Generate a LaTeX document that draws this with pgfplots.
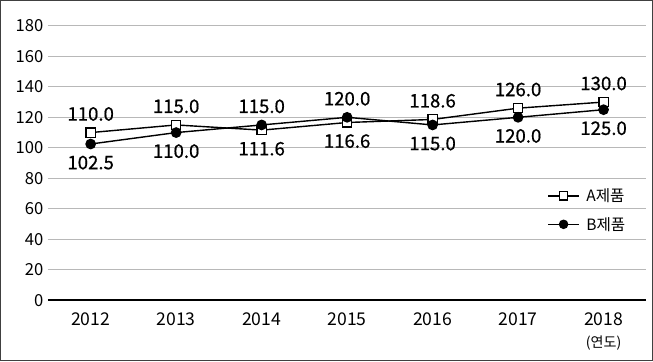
\documentclass[border=0pt]{standalone}
\usepackage{pgfplots}
\usepackage{pgfplotstable}
\pgfplotsset{compat=1.18}
\usepackage{fontspec}
\setmainfont{Noto Sans CJK KR}
\newfontfamily\lblfont[FakeBold=0.7]{Noto Sans CJK KR}
\newfontfamily\tickfont{Noto Sans CJK KR}
\pgfplotstableread{
x y off
0 110 18.5
1 115 18.5
2 111.6 -18.5
3 116.6 -18.5
4 118.6 18.5
5 126 18.5
6 130 18.5
}\dataA
\pgfplotstableread{
x y off
0 102.5 -18.5
1 110 -18.5
2 115 18.5
3 120 18.5
4 115 -18.5
5 120 -18.5
6 125 -18.5
}\dataB
\begin{document}
\begin{tikzpicture}
\begin{axis}[
  scale only axis,
  width=595pt, height=273pt,
  xmin=-0.5, xmax=6.5,
  ymin=0, ymax=180,
  ytick={0,20,...,180},
  xtick={0,...,6},
  xticklabels={2012,2013,2014,2015,2016,2017,2018},
  axis line style={draw=none},
  major tick length=0pt,
  ymajorgrids,
  grid style={color=black!28, line width=0.9pt},
  /pgf/number format/assume math mode=true,
  yticklabel style={font=\tickfont\fontsize{16.5}{19}\selectfont, xshift=-1pt},
  xticklabel style={font=\tickfont\fontsize{17.5}{20}\selectfont, yshift=-9pt},
  clip=false,
  legend style={draw=none, fill=none, at={(rel axis cs:0.835,0.415)}, anchor=north west,
    font=\tickfont\fontsize{15.5}{18}\selectfont, row sep=10pt, inner sep=0pt,
    /tikz/every odd column/.style={column sep=5pt}},
  legend cell align=left,
  legend image code/.code={\draw[mark repeat=2,mark phase=2,mark size=4pt] plot coordinates {(0pt,0pt)(15pt,0pt)(30pt,0pt)};},
  nodes near coords={\pgfmathprintnumber[fixed,fixed zerofill,precision=1,assume math mode=true]{\pgfplotspointmeta}},
  every node near coord/.append style={font=\lblfont\fontsize{18.5}{21}\selectfont, anchor=center, yshift=\off pt, text=black},
  visualization depends on={\thisrow{off} \as \off},
]
\draw[black, line width=2.2pt] (axis cs:-0.5,0) -- (axis cs:6.5,0);
\addplot[black, line width=1.4pt, mark=square*, mark size=4.6pt, mark options={fill=white, line width=1.3pt}] table[x=x,y=y] {\dataA};
\addlegendentry{A제품}
\addplot[black, line width=1.4pt, mark=*, mark size=4.6pt, mark options={fill=black}] table[x=x,y=y] {\dataB};
\addlegendentry{B제품}
\node[font=\tickfont\fontsize{14}{16}\selectfont] at ([yshift=-42pt]axis cs:6,0) {(연도)};
\end{axis}
\draw[black!75, line width=1.3pt] ([xshift=-47pt,yshift=-60pt]current axis.south west) rectangle ([xshift=6pt,yshift=25pt]current axis.north east);
\end{tikzpicture}
\end{document}
